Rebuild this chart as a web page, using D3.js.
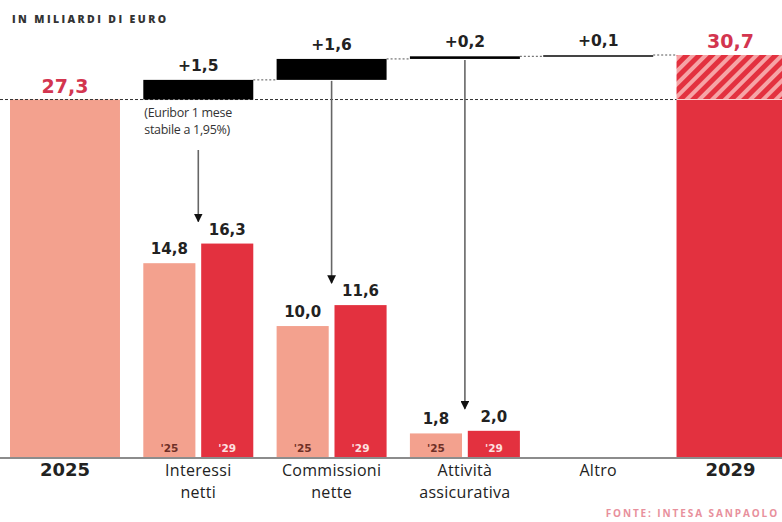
<!DOCTYPE html>
<html>
<head>
<meta charset="utf-8">
<script src="https://cdn.jsdelivr.net/npm/d3@7"></script>
<style>
  html, body { margin: 0; padding: 0; background: #fff; }
  svg { display: block; font-family: "Open Sans", "Lato", sans-serif; }
</style>
</head>
<body>
<svg id="chart" width="782" height="522"></svg>
<script>
// ---- data ----
const columns = ["2025", "Interessi netti", "Commissioni nette", "Attività assicurativa", "Altro", "2029"];
const columnLabels = [["2025"], ["Interessi", "netti"], ["Commissioni", "nette"], ["Attività", "assicurativa"], ["Altro"], ["2029"]];
const startTotal = 27.3;
const endTotal = 30.7;
const deltaCats = ["Interessi netti", "Commissioni nette", "Attività assicurativa", "Altro"];
const deltas = [1.5, 1.6, 0.2, 0.1];
const groupCats = ["Interessi netti", "Commissioni nette", "Attività assicurativa"];
const years = ["'25", "'29"];
const values25 = [14.8, 10.0, 1.8];
const values29 = [16.3, 11.6, 2.0];
const arrowCats = ["Interessi netti", "Commissioni nette", "Attività assicurativa"];
const note = ["(Euribor 1 mese", "stabile a 1,95%)"];
const title = "IN MILIARDI DI EURO";
const source = "FONTE: INTESA SANPAOLO";

const fmt = v => d3.format(".1f")(v).replace(".", ",");
const fmtDelta = v => "+" + fmt(v);

// ---- colors ----
const cLight = "#f3a18e";
const cRed = "#e3313f";
const cText = "#222";
const numFont = "'DejaVu Sans', sans-serif";

const svg = d3.select("#chart");
const baseY = 457;

const x = d3.scaleBand().domain(columns).range([10, 786.5]).paddingInner(0.175).paddingOuter(0);
const xs = d3.scaleBand().domain(years).range([0, x.bandwidth()]).paddingInner(0.1);
const y = d3.scaleLinear().domain([0, endTotal]).range([baseY, 55]);

// pattern
const defs = svg.append("defs");
const pat = defs.append("pattern").attr("id", "hatch").attr("patternUnits", "userSpaceOnUse")
  .attr("width", 9).attr("height", 9).attr("patternTransform", "rotate(45)");
pat.append("rect").attr("width", 9).attr("height", 9).attr("fill", "#f6a4a6");
pat.append("rect").attr("width", 5).attr("height", 9).attr("fill", cRed);

// title
svg.append("text").attr("x", 12).attr("y", 23).text(title)
  .attr("font-size", 10.5).attr("font-weight", 800).attr("letter-spacing", 2.4).attr("fill", "#333");

// 2025 bar
svg.append("rect").attr("x", x("2025")).attr("y", y(startTotal))
  .attr("width", x.bandwidth()).attr("height", baseY - y(startTotal)).attr("fill", cLight);

// 2029 bar: solid to start level, hatched for increment
svg.append("rect").attr("x", x("2029")).attr("y", y(startTotal))
  .attr("width", x.bandwidth()).attr("height", baseY - y(startTotal)).attr("fill", cRed);
svg.append("rect").attr("x", x("2029")).attr("y", y(endTotal))
  .attr("width", x.bandwidth()).attr("height", y(startTotal) - y(endTotal)).attr("fill", "url(#hatch)");
svg.append("line").attr("x1", x("2029")).attr("x2", 782).attr("y1", y(startTotal)).attr("y2", y(startTotal))
  .attr("stroke", "#fbd0d0").attr("stroke-width", 1.2);

// dashed reference line at start level
svg.append("line").attr("x1", 0).attr("x2", x("2029")).attr("y1", y(startTotal)).attr("y2", y(startTotal))
  .attr("stroke", "#333").attr("stroke-width", 1).attr("stroke-dasharray", "3,2");

// waterfall deltas
let cum = startTotal;
const steps = deltas.map((d, i) => { const s = cum; cum += d; return { cat: deltaCats[i], d, s, e: cum }; });

steps.forEach((st, i) => {
  if (i > 0) {
    const prevRight = x(steps[i - 1].cat) + x.bandwidth();
    svg.append("line").attr("x1", prevRight).attr("x2", x(st.cat))
      .attr("y1", y(st.s)).attr("y2", y(st.s))
      .attr("stroke", "#555").attr("stroke-width", 1).attr("stroke-dasharray", "2,2");
  }
  const h = Math.max(2, y(st.s) - y(st.e));
  svg.append("rect").attr("x", x(st.cat)).attr("y", y(st.e))
    .attr("width", x.bandwidth()).attr("height", h).attr("fill", i === 3 ? "#444" : "#000");
  svg.append("text").attr("x", x(st.cat) + x.bandwidth() / 2).attr("y", y(st.e) - 9)
    .attr("text-anchor", "middle").attr("font-family", numFont).attr("font-size", 15.5)
    .attr("font-weight", 700).attr("fill", cText)
    .text(fmtDelta(st.d));
});
// connector to 2029
const last = steps[steps.length - 1];
svg.append("line").attr("x1", x(last.cat) + x.bandwidth()).attr("x2", x("2029"))
  .attr("y1", y(last.e)).attr("y2", y(last.e))
  .attr("stroke", "#555").attr("stroke-width", 1).attr("stroke-dasharray", "2,2");

// total labels
svg.append("text").attr("x", x("2025") + x.bandwidth() / 2).attr("y", y(startTotal) - 7)
  .attr("text-anchor", "middle").attr("font-family", numFont).attr("font-size", 19)
  .attr("font-weight", 700).attr("fill", "#d3354f")
  .text(fmt(startTotal));
svg.append("text").attr("x", x("2029") + x.bandwidth() / 2 - 1).attr("y", y(endTotal) - 7)
  .attr("text-anchor", "middle").attr("font-family", numFont).attr("font-size", 19)
  .attr("font-weight", 700).attr("fill", "#d3354f")
  .text(fmt(endTotal));

// grouped bars
groupCats.forEach((cat, i) => {
  const vals = [values25[i], values29[i]];
  vals.forEach((v, j) => {
    const bx = x(cat) + xs(years[j]);
    svg.append("rect").attr("x", bx).attr("y", y(v)).attr("width", xs.bandwidth())
      .attr("height", baseY - y(v)).attr("fill", j === 0 ? cLight : cRed);
    svg.append("text").attr("x", bx + xs.bandwidth() / 2).attr("y", y(v) - 9)
      .attr("text-anchor", "middle").attr("font-family", numFont).attr("font-size", 15)
      .attr("font-weight", 700).attr("fill", cText)
      .text(fmt(v));
    svg.append("text").attr("x", bx + xs.bandwidth() / 2).attr("y", baseY - 5)
      .attr("text-anchor", "middle").attr("font-family", numFont).attr("font-size", 10.5).attr("font-weight", 700)
      .attr("fill", j === 0 ? "#6e2f26" : "#fde0e0").text(years[j]);
  });
});

// arrows
defs.append("marker").attr("id", "arrow").attr("viewBox", "0 0 10 10").attr("refX", 9).attr("refY", 5)
  .attr("markerWidth", 5.5).attr("markerHeight", 5.5).attr("orient", "auto")
  .append("path").attr("d", "M0,0 L10,5 L0,10 Z").attr("fill", "#111");

arrowCats.forEach((cat, i) => {
  const cx = x(cat) + x.bandwidth() / 2;
  const top = i === 0 ? 150 : y(steps[i].s) + 1;
  const tip = y(Math.max(values25[i], values29[i])) - 22;
  svg.append("line").attr("x1", cx).attr("x2", cx).attr("y1", top).attr("y2", tip)
    .attr("stroke", "#666").attr("stroke-width", 1.6).attr("marker-end", "url(#arrow)");
});

// note
note.forEach((t, i) => {
  svg.append("text").attr("x", x("Interessi netti") + 1).attr("y", 117 + i * 17)
    .attr("font-size", 12.5).attr("fill", "#333").attr("letter-spacing", -0.3).text(t);
});

// baseline axis
svg.append("line").attr("x1", 0).attr("x2", 782).attr("y1", baseY + 1).attr("y2", baseY + 1)
  .attr("stroke", "#8c8c8c").attr("stroke-width", 2);

// category labels
columns.forEach((c, i) => {
  const bold = c === "2025" || c === "2029";
  const cx = x(c) + x.bandwidth() / 2 - (c === "2029" ? 1 : 0);
  columnLabels[i].forEach((t, k) => {
    svg.append("text").attr("x", cx).attr("y", 476 + k * 22)
      .attr("text-anchor", "middle")
      .attr("font-family", bold ? numFont : null)
      .attr("font-size", bold ? 18 : 16)
      .attr("letter-spacing", bold ? 0 : 0.3)
      .attr("font-weight", bold ? 700 : 400).attr("fill", cText).text(t);
  });
});

// source
svg.append("text").attr("x", 779).attr("y", 517).attr("text-anchor", "end").text(source)
  .attr("font-size", 10).attr("font-weight", 700).attr("letter-spacing", 1.9).attr("fill", "#e8909c");
</script>
</body>
</html>
